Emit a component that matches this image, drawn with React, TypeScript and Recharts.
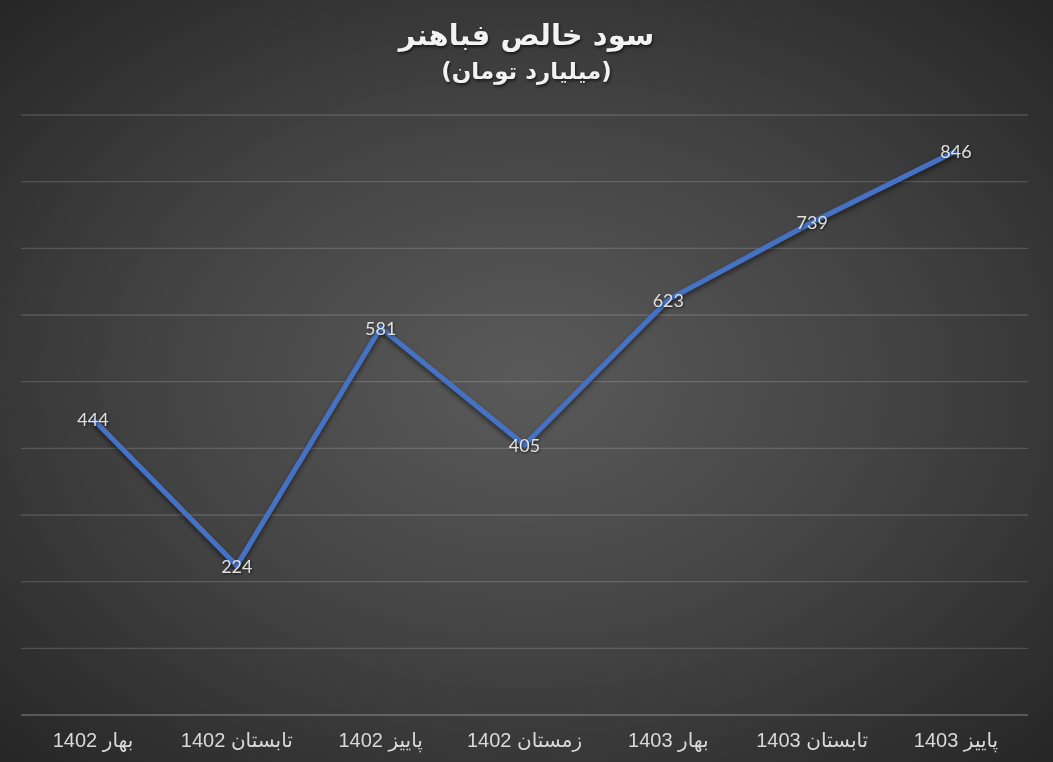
import React from 'react';
import { LineChart, Line, XAxis, YAxis, CartesianGrid } from 'recharts';

const categories = ['بهار 1402', 'تابستان 1402', 'پاییز 1402', 'زمستان 1402', 'بهار 1403', 'تابستان 1403', 'پاییز 1403'];
const profit = [444, 224, 581, 405, 623, 739, 846];
const yTicks = [0, 100, 200, 300, 400, 500, 600, 700, 800, 900];
const title = 'سود خالص فباهنر';
const subtitle = '(میلیارد تومان)';

const data = categories.map((c, i) => ({ name: c, value: profit[i] }));

const W = 1053;
const H = 762;

const ValueLabel = (props: any) => {
  const { x, y, value } = props;
  return (
    <text
      x={x}
      y={y}
      textAnchor="middle"
      dominantBaseline="central"
      fill="#e0e0e0"
      fontSize={18}
      fontFamily="Lato, 'Open Sans', sans-serif"
      style={{ filter: 'drop-shadow(1px 1px 1px rgba(0,0,0,0.5))' }}
    >
      {value}
    </text>
  );
};

const XTick = (props: any) => {
  const { x, y, payload } = props;
  return (
    <text
      x={x}
      y={y}
      dy={24}
      textAnchor="middle"
      fill="#d9d9d9"
      fontSize={20}
      fontFamily="'Liberation Sans', Arial, 'DejaVu Sans', sans-serif"
    >
      {payload.value}
    </text>
  );
};

export default function App() {
  return (
    <div
      style={{
        position: 'fixed',
        left: 0,
        top: 0,
        width: W,
        height: H,
        background:
          'radial-gradient(ellipse farthest-corner at 50% 50%, #5a5a5a 0%, #434343 50%, #262626 100%)',
        overflow: 'hidden',
      }}
    >
      <div
        style={{
          position: 'absolute',
          left: 0,
          top: 15,
          width: W,
          textAlign: 'center',
          color: '#f2f2f2',
          fontFamily: "'DejaVu Sans', 'Liberation Sans', sans-serif",
          fontWeight: 'bold',
          fontSize: 29,
          direction: 'rtl',
          textShadow: '1px 2px 3px rgba(0,0,0,0.6)',
          lineHeight: '40px',
        }}
      >
        {title}
      </div>
      <div
        style={{
          position: 'absolute',
          left: 0,
          top: 56,
          width: W,
          textAlign: 'center',
          color: '#f2f2f2',
          fontFamily: "'DejaVu Sans', 'Liberation Sans', sans-serif",
          fontWeight: 'bold',
          fontSize: 23,
          direction: 'rtl',
          textShadow: '1px 2px 3px rgba(0,0,0,0.6)',
          lineHeight: '30px',
        }}
      >
        {subtitle}
      </div>
      <div style={{ position: 'absolute', left: 0, top: 0 }}>
        <LineChart
          width={W}
          height={H}
          data={data}
          margin={{ top: 115, right: 25, bottom: 0, left: 21 }}
        >
          <defs>
            <filter id="lineShadow" x="-10%" y="-10%" width="120%" height="130%">
              <feDropShadow dx="0" dy="3" stdDeviation="2.5" floodColor="#000" floodOpacity="0.55" />
            </filter>
          </defs>
          <CartesianGrid
            vertical={false}
            stroke="rgba(255,255,255,0.16)"
            strokeWidth={1.3}
          />
          <XAxis
            dataKey="name"
            height={47}
            axisLine={{ stroke: 'rgba(255,255,255,0.16)', strokeWidth: 1.3 }}
            tickLine={false}
            tick={<XTick />}
            interval={0}
            padding={{ left: 72, right: 72 }}
          />
          <YAxis hide domain={[0, 900]} ticks={yTicks} width={0} />
          <Line
            type="linear"
            dataKey="value"
            stroke="#4472C4"
            strokeWidth={5}
            dot={false}
            isAnimationActive={false}
            style={{ filter: 'url(#lineShadow)' }}
            label={<ValueLabel />}
          />
        </LineChart>
      </div>
    </div>
  );
}
